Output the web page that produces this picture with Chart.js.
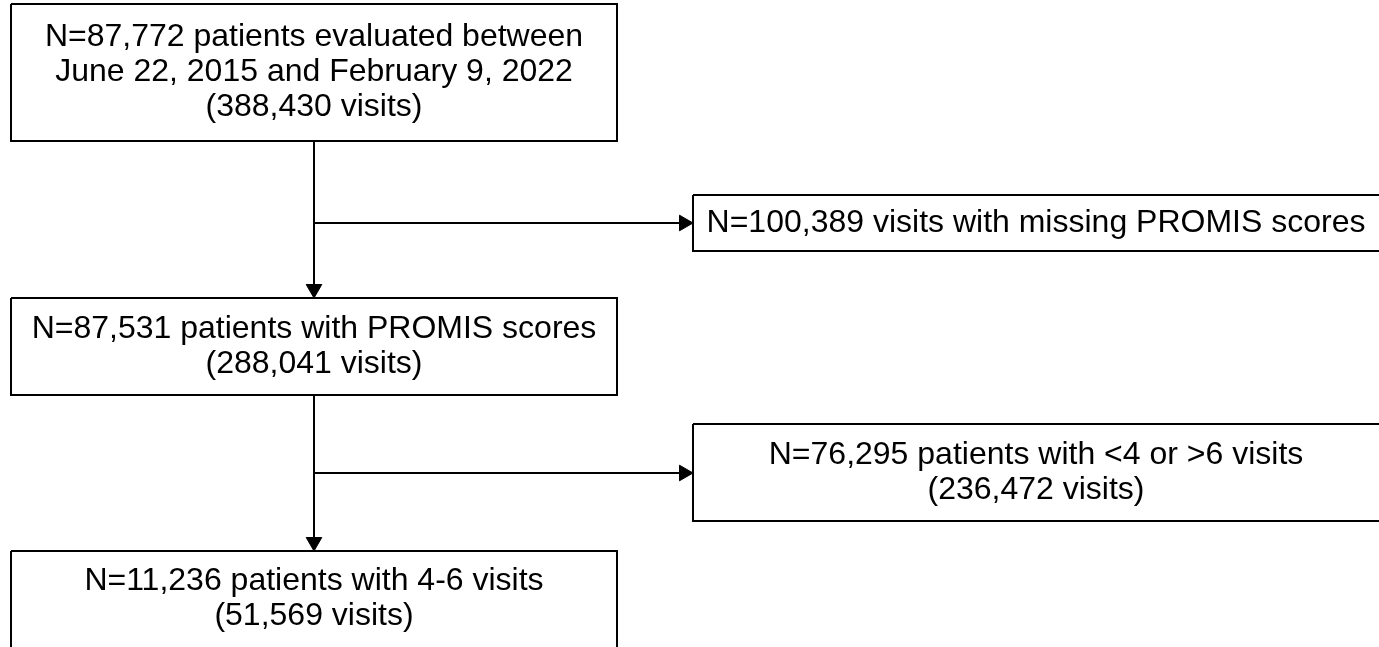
<!DOCTYPE html>
<html lang="en">
<head>
  <meta charset="UTF-8">
  <title>Patient flow</title>
  <script src="https://cdn.jsdelivr.net/npm/chart.js"></script>
  <style>
    html, body { margin: 0; padding: 0; background: #fff; }
    #wrap { width: 1379px; height: 647px; }
  </style>
</head>
<body>

<div id="wrap"><canvas id="flow"></canvas></div>

<script>
  // texts of the main column boxes (top to bottom)
  const mainTexts = [
    ["N=87,772 patients evaluated between", "June 22, 2015 and February 9, 2022", "(388,430 visits)"],
    ["N=87,531 patients with PROMIS scores", "(288,041 visits)"],
    ["N=11,236 patients with 4-6 visits", "(51,569 visits)"]
  ];
  // texts of the excluded boxes on the right
  const excludedTexts = [
    ["N=100,389 visits with missing PROMIS scores"],
    ["N=76,295 patients with <4 or >6 visits", "(236,472 visits)"]
  ];

  // layout (pixels of the 1379x647 page)
  const mainBoxes = [[11, 4, 617, 141], [11, 298, 617, 395], [11, 551, 617, 720]];
  const sideBoxes = [[693, 195, 1400, 251], [693, 424, 1400, 521]];
  const spineX = 314;
  const branchY = [223, 473];
  const lineGap = 35;
  const fontSize = 32;
  const headR = 9;

  const rect = b => [
    {x: b[0], y: b[1]}, {x: b[2], y: b[1]}, {x: b[2], y: b[3]}, {x: b[0], y: b[3]}, {x: b[0], y: b[1]}
  ];

  const boxSet = b => ({
    data: rect(b), showLine: true, borderColor: '#000', borderWidth: 2,
    pointRadius: 0, tension: 0
  });

  const arrowSet = (from, to, rot) => ({
    data: [from, to], showLine: true, borderColor: '#000', borderWidth: 2,
    pointRadius: [0, headR], pointStyle: 'triangle', pointRotation: rot,
    pointBackgroundColor: '#000', pointBorderColor: '#000', pointBorderWidth: 1
  });

  const datasets = [];
  mainBoxes.forEach(b => datasets.push(boxSet(b)));
  sideBoxes.forEach(b => datasets.push(boxSet(b)));
  // spine arrows (tip touches next box)
  datasets.push(arrowSet({x: spineX, y: mainBoxes[0][3]}, {x: spineX, y: mainBoxes[1][1] - headR}, 180));
  datasets.push(arrowSet({x: spineX, y: mainBoxes[1][3]}, {x: spineX, y: mainBoxes[2][1] - headR}, 180));
  // branch arrows
  branchY.forEach((y, i) => {
    datasets.push(arrowSet({x: spineX, y: y}, {x: sideBoxes[i][0] - headR, y: y}, 90));
  });

  const textPlugin = {
    id: 'boxText',
    afterDatasetsDraw(chart) {
      const {ctx, scales} = chart;
      ctx.save();
      ctx.fillStyle = '#000';
      ctx.font = fontSize + 'px "Liberation Sans", Arial, sans-serif';
      ctx.textAlign = 'center';
      ctx.textBaseline = 'middle';
      const put = (b, lines, cy) => {
        const cx = (scales.x.getPixelForValue(b[0]) + scales.x.getPixelForValue(Math.min(b[2], 1379))) / 2;
        const top = cy - (lines.length - 1) * lineGap / 2;
        lines.forEach((t, k) => ctx.fillText(t, cx, scales.y.getPixelForValue(top + k * lineGap)));
      };
      put(mainBoxes[0], mainTexts[0], (mainBoxes[0][1] + mainBoxes[0][3]) / 2);
      put(mainBoxes[1], mainTexts[1], (mainBoxes[1][1] + mainBoxes[1][3]) / 2);
      put(mainBoxes[2], mainTexts[2], mainBoxes[2][1] + 48);
      put(sideBoxes[0], excludedTexts[0], (sideBoxes[0][1] + sideBoxes[0][3]) / 2);
      put(sideBoxes[1], excludedTexts[1], (sideBoxes[1][1] + sideBoxes[1][3]) / 2);
      ctx.restore();
    }
  };

  new Chart(document.getElementById('flow'), {
    type: 'scatter',
    data: { datasets: datasets },
    options: {
      responsive: true,
      maintainAspectRatio: false,
      animation: false,
      layout: { padding: 0, autoPadding: false },
      scales: {
        x: { type: 'linear', min: 0, max: 1379, display: false },
        y: { type: 'linear', min: 0, max: 647, reverse: true, display: false }
      },
      plugins: { legend: { display: false }, tooltip: { enabled: false } }
    },
    plugins: [textPlugin]
  });
</script>

</body>
</html>
